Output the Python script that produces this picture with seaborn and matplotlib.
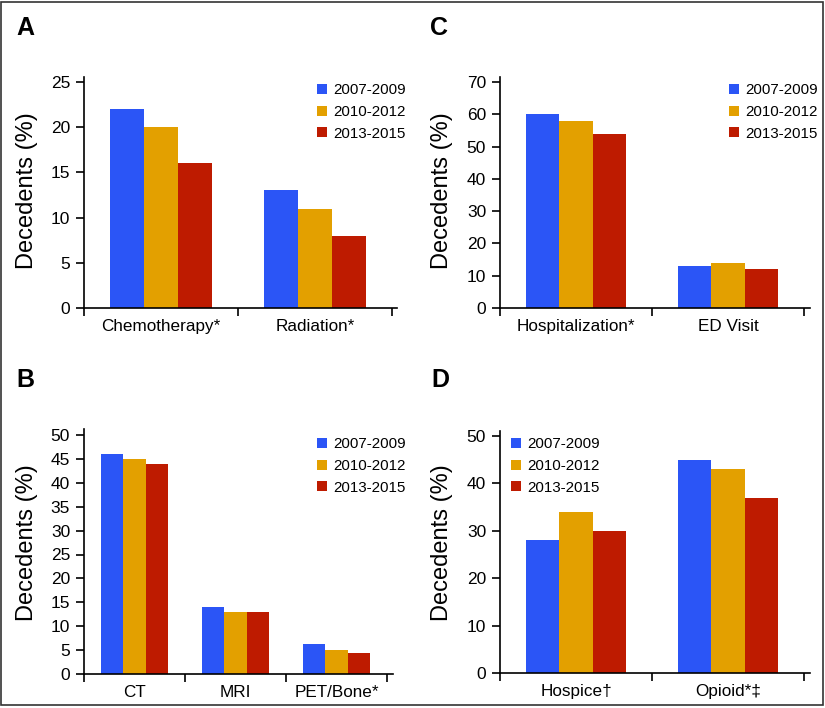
import numpy as np
import pandas as pd
import matplotlib
matplotlib.use('Agg')
import matplotlib.pyplot as plt
import seaborn as sns
from matplotlib.patches import Rectangle

periods = ['2007-2009', '2010-2012', '2013-2015']
colors = ['#2b55f6', '#e3a000', '#be1b00']

# one list per period, in category order
a_cats = ['Chemotherapy*', 'Radiation*']
a_vals = [[22, 13], [20, 11], [16, 8]]

c_cats = ['Hospitalization*', 'ED Visit']
c_vals = [[60, 13], [58, 14], [54, 12]]

b_cats = ['CT', 'MRI', 'PET/Bone*']
b_vals = [[46, 14, 6.3], [45, 13, 5.1], [44, 13, 4.3]]

d_cats = ['Hospice\u2020', 'Opioid*\u2021']
d_vals = [[28, 45], [34, 43], [30, 37]]

a_ticks = [0, 5, 10, 15, 20, 25]
c_ticks = [0, 10, 20, 30, 40, 50, 60, 70]
b_ticks = [0, 5, 10, 15, 20, 25, 30, 35, 40, 45, 50]
d_ticks = [0, 10, 20, 30, 40, 50]

W, H = 825, 708

sns.set_theme(style='white')
plt.rcParams['font.family'] = ['Liberation Sans', 'DejaVu Sans']
plt.rcParams['text.color'] = 'black'
plt.rcParams['axes.labelcolor'] = 'black'
plt.rcParams['xtick.color'] = 'black'
plt.rcParams['ytick.color'] = 'black'

fig = plt.figure(figsize=(W / 100, H / 100), dpi=100)
fig.patches.append(Rectangle((1 / W, 3 / H), 822 / W, 703 / H, transform=fig.transFigure,
                             fill=False, edgecolor='#333333', linewidth=1.2))


def to_frame(cats, vals):
    rows = []
    for p, v in zip(periods, vals):
        for c, x in zip(cats, v):
            rows.append({'cat': c, 'period': p, 'value': x})
    return pd.DataFrame(rows)


def panel(cats, vals, ticks, left, right, last_edge, zero_px, top_tick_px, spine_top_px,
          leg_x, leg_y, letter, letter_x, letter_y, lab_x, lab_y):
    ax = fig.add_axes([left / W, 1 - zero_px / H, (right - left) / W, (zero_px - spine_top_px) / H])
    df = to_frame(cats, vals)
    sns.barplot(data=df, x='cat', y='value', hue='period', hue_order=periods, order=cats,
                palette=colors, saturation=1, width=0.66, linewidth=0, errorbar=None, ax=ax)
    n = len(cats)
    unit = (last_edge - left) / n
    ax.set_xlim(-0.5, -0.5 + (right - left) / unit)
    ymax = ticks[-1] * (zero_px - spine_top_px) / (zero_px - top_tick_px)
    ax.set_ylim(0, ymax)
    ax.set_yticks(ticks)
    ax.set_yticklabels([str(t) for t in ticks], fontsize=12.5)
    ax.set_xticks(np.arange(n + 1) - 0.5)
    ax.set_xticklabels([''] * (n + 1))
    ax.set_xticks(np.arange(n), minor=True)
    ax.set_xticklabels(cats, minor=True, fontsize=12.3)
    ax.tick_params(axis='x', which='major', direction='out', length=6, width=1.2, color='black', bottom=True)
    ax.tick_params(axis='x', which='minor', length=0, pad=8, colors='black')
    ax.tick_params(axis='y', direction='out', length=6, width=1.2, color='black', left=True,
                   pad=4, labelcolor='black')
    for s in ['top', 'right']:
        ax.spines[s].set_visible(False)
    for s in ['left', 'bottom']:
        ax.spines[s].set_color('black')
        ax.spines[s].set_linewidth(1.2)
    ax.set_xlabel('')
    ax.set_ylabel('')
    ax.legend(loc='upper left', bbox_to_anchor=(leg_x / W, 1 - leg_y / H),
              bbox_transform=fig.transFigure, frameon=False, fontsize=10.9,
              handlelength=0.65, handleheight=0.65, handletextpad=0.4,
              labelspacing=0.52, borderpad=0, borderaxespad=0)
    fig.text(letter_x / W, 1 - letter_y / H, letter, fontsize=18, fontweight='bold',
             ha='left', va='baseline')
    fig.text(lab_x / W, 1 - lab_y / H, 'Decedents (%)', fontsize=17, rotation=90,
             ha='center', va='center')
    return ax


panel(a_cats, a_vals, a_ticks, 84, 397, 392, 308, 82, 77, 317, 83, 'A', 16, 35, 27, 191)
panel(c_cats, c_vals, c_ticks, 500, 810, 804, 308, 82, 77, 729, 83, 'C', 430, 35, 442, 191)
panel(b_cats, b_vals, b_ticks, 84, 393, 387, 674, 435, 429, 317, 437, 'B', 16, 387, 27, 543)
panel(d_cats, d_vals, d_ticks, 500, 810, 804, 673, 436, 431, 511, 437, 'D', 431, 387, 442, 543)

fig.savefig('out.png', dpi=100)
